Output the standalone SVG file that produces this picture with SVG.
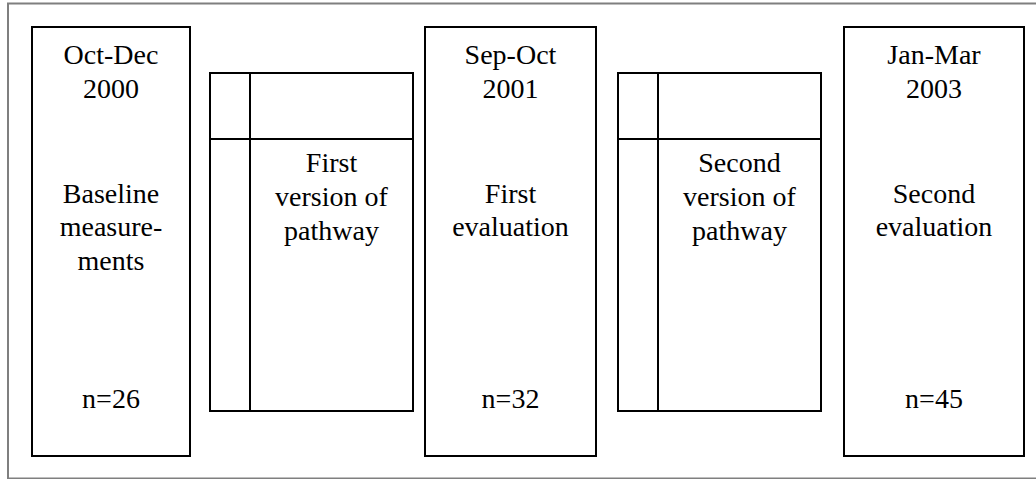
<svg xmlns="http://www.w3.org/2000/svg" width="1036" height="479" viewBox="0 0 1036 479">
<style>
.frame{fill:none;stroke:#7f7f7f;stroke-width:2}
.box{fill:#fff;stroke:#000;stroke-width:2}
.ln{stroke:#000;stroke-width:2;fill:none}
text{font-family:"Liberation Serif","Times New Roman",serif;font-size:28px;fill:#000;text-anchor:middle}
</style>
<rect class="frame" x="8" y="3.5" width="1040" height="475"/>
<g id="connectors"></g>
<g id="box1">
<rect class="box" x="32" y="27" width="158" height="429"/>
<text x="111" y="64">Oct-Dec</text>
<text x="111" y="98">2000</text>
<text x="111" y="203">Baseline</text>
<text x="111" y="236">measure-</text>
<text x="111" y="270">ments</text>
<text x="111" y="408">n=26</text>
</g>
<g id="pathway1">
<rect class="box" x="210" y="73" width="203" height="338"/>
<line class="ln" x1="250" y1="73" x2="250" y2="411"/>
<line class="ln" x1="210" y1="139" x2="413" y2="139"/>
<text x="331.5" y="172">First</text>
<text x="331.5" y="206">version of</text>
<text x="331.5" y="240">pathway</text>
</g>
<g id="box2">
<rect class="box" x="425" y="27" width="171" height="429"/>
<text x="510.5" y="64">Sep-Oct</text>
<text x="510.5" y="98">2001</text>
<text x="510.5" y="203">First</text>
<text x="510.5" y="236">evaluation</text>
<text x="510.5" y="408">n=32</text>
</g>
<g id="pathway2">
<rect class="box" x="618" y="73" width="203" height="338"/>
<line class="ln" x1="658" y1="73" x2="658" y2="411"/>
<line class="ln" x1="618" y1="139" x2="821" y2="139"/>
<text x="739.5" y="172">Second</text>
<text x="739.5" y="206">version of</text>
<text x="739.5" y="240">pathway</text>
</g>
<g id="box3">
<rect class="box" x="844" y="27" width="180" height="429"/>
<text x="934" y="64">Jan-Mar</text>
<text x="934" y="98">2003</text>
<text x="934" y="203">Second</text>
<text x="934" y="236">evaluation</text>
<text x="934" y="408">n=45</text>
</g>
</svg>
